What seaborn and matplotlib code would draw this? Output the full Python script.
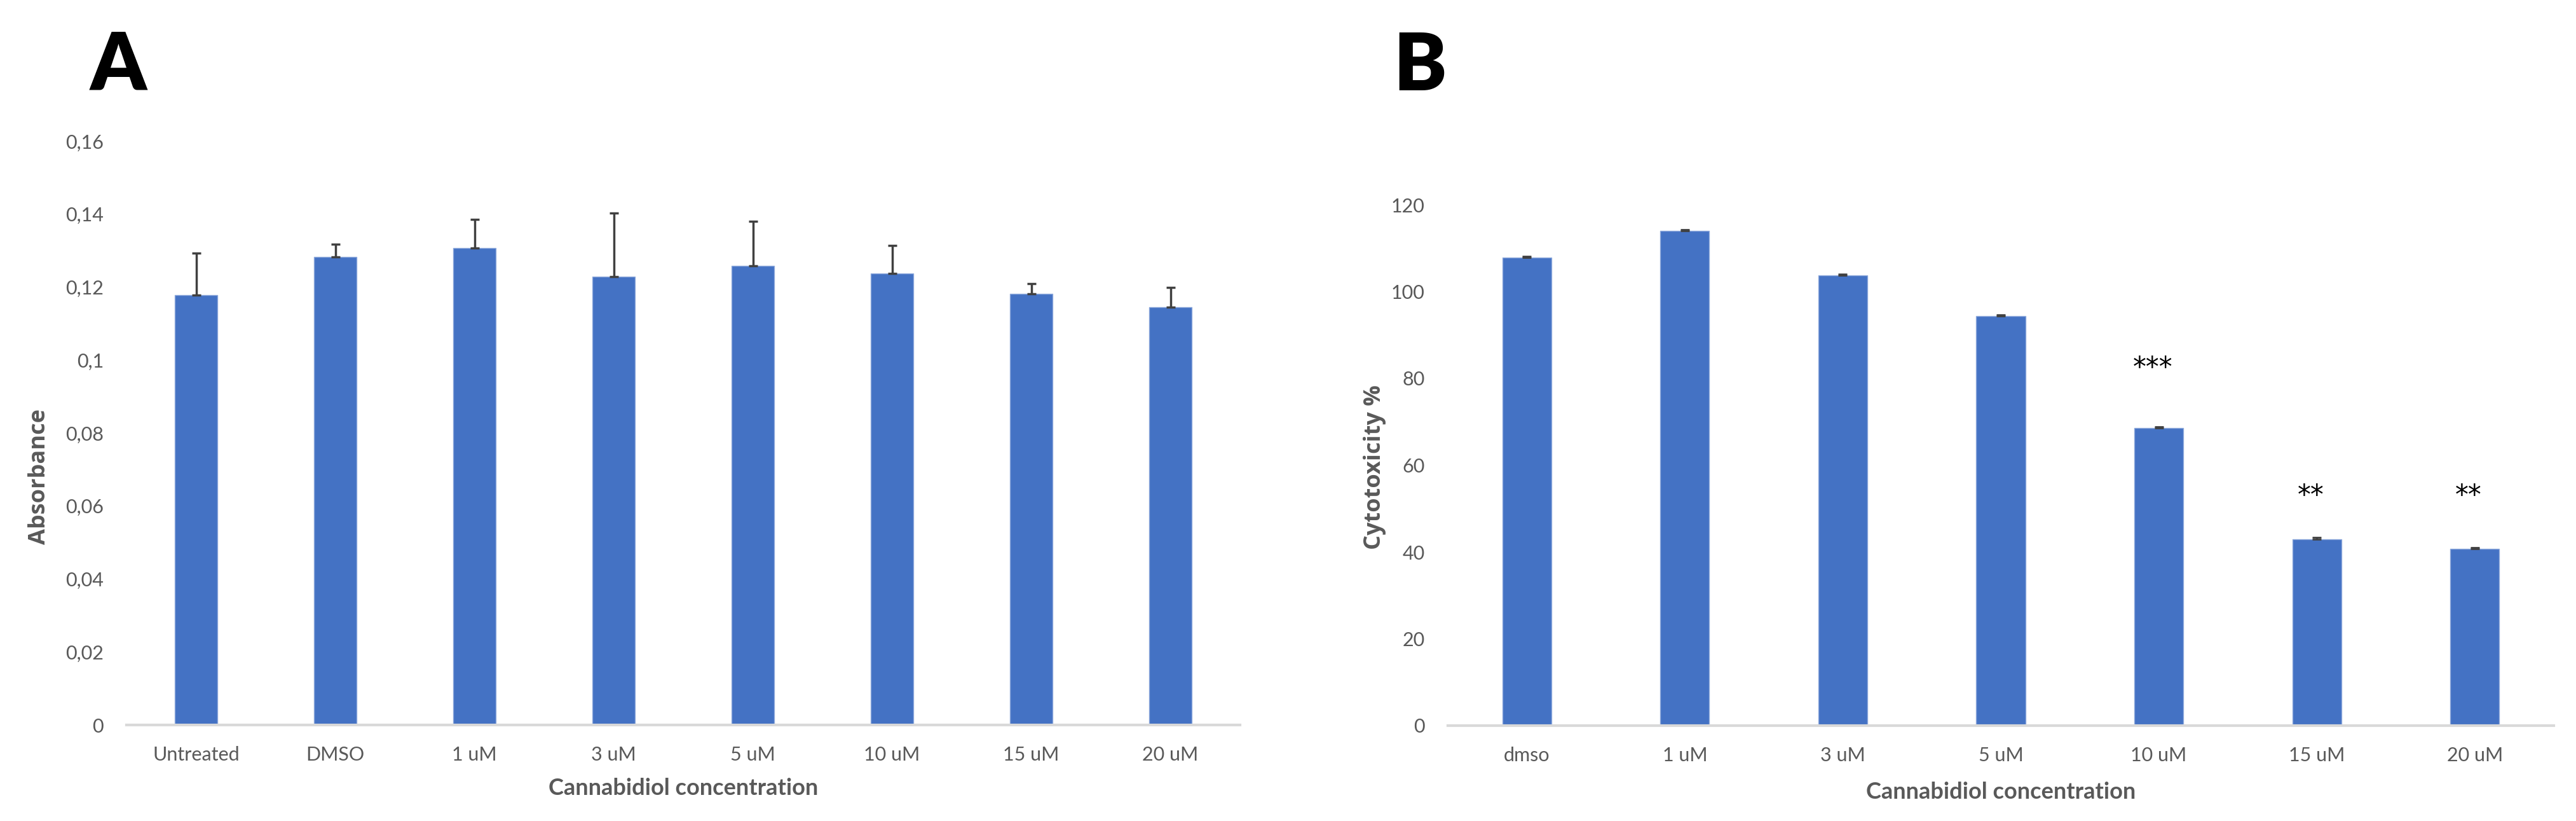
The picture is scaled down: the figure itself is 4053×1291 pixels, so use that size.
import matplotlib
matplotlib.use("Agg")
import matplotlib.pyplot as plt
import seaborn as sns
import pandas as pd
import numpy as np

# ---- data ----
cats_a = ["Untreated", "DMSO", "1 uM", "3 uM", "5 uM", "10 uM", "15 uM", "20 uM"]
absorbance = [0.1178, 0.1282, 0.1308, 0.1228, 0.1258, 0.1238, 0.1181, 0.1145]
absorbance_err = [0.0116, 0.0035, 0.0077, 0.0175, 0.0123, 0.0076, 0.0028, 0.0054]
yticks_a = [0, 0.02, 0.04, 0.06, 0.08, 0.10, 0.12, 0.14, 0.16]
yticklabels_a = ["0", "0,02", "0,04", "0,06", "0,08", "0,1", "0,12", "0,14", "0,16"]

cats_b = ["dmso", "1 uM", "3 uM", "5 uM", "10 uM", "15 uM", "20 uM"]
cytotox = [107.9, 114.0, 103.7, 94.3, 68.6, 43.0, 40.7]
cytotox_err = [0.3, 0.3, 0.3, 0.3, 0.3, 0.3, 0.3]
yticks_b = [0, 20, 40, 60, 80, 100, 120]
stars_b = ["", "", "", "", "***", "**", "**"]
star_y_b = [None, None, None, None, 82.3, 52.9, 52.9]

sns.set_style("white")
plt.rcParams["font.family"] = ["Lato", "DejaVu Sans"]

BLUE = "#4472C4"
GREY = "#595959"
AXISGREY = "#D9D9D9"

W, H = 4053, 1291
fig = plt.figure(figsize=(W / 100, H / 100), dpi=100)

def px_axes(left, right, top, bottom):
    return fig.add_axes([left / W, 1 - bottom / H, (right - left) / W, (bottom - top) / H])

axA = px_axes(199, 1951, 222, 1140)
axB = px_axes(2278, 4018, 322, 1141)

dfa = pd.DataFrame({"cat": cats_a, "val": absorbance})
dfb = pd.DataFrame({"cat": cats_b, "val": cytotox})

sns.barplot(data=dfa, x="cat", y="val", ax=axA, color=BLUE, width=0.31,
            errorbar=None, saturation=1, edgecolor="#8FAADC", linewidth=1)
sns.barplot(data=dfb, x="cat", y="val", ax=axB, color=BLUE, width=0.31,
            errorbar=None, saturation=1, edgecolor="#8FAADC", linewidth=1)

xa = np.arange(len(cats_a))
axA.errorbar(xa, absorbance, yerr=[np.zeros(len(cats_a)), absorbance_err],
             fmt="none", ecolor="#404040", elinewidth=2.5, capsize=5, capthick=2.5)
xb = np.arange(len(cats_b))
axB.errorbar(xb, cytotox, yerr=[np.zeros(len(cats_b)), cytotox_err],
             fmt="none", ecolor="#404040", elinewidth=2, capsize=5, capthick=2)

for ax in (axA, axB):
    for s in ("top", "right", "left"):
        ax.spines[s].set_visible(False)
    ax.spines["bottom"].set_color(AXISGREY)
    ax.spines["bottom"].set_linewidth(3)
    ax.tick_params(axis="both", length=0, labelsize=22, labelcolor=GREY)
    ax.tick_params(axis="y", pad=26)
    ax.tick_params(axis="x", pad=24)
    ax.set_xlabel("Cannabidiol concentration", fontsize=26, fontweight="bold",
                  color=GREY)
    ax.xaxis.label.set_va("center")
    ax.grid(False)

axA.set_xlim(-0.5, len(cats_a) - 0.5)
axA.set_ylim(0, 0.16)
axA.set_yticks(yticks_a)
axA.set_yticklabels(yticklabels_a)
axA.xaxis.set_label_coords(0.5, -99 / 918)
axA.set_ylabel("Absorbance", fontsize=26, fontweight="bold", color=GREY,
               family=["Open Sans", "DejaVu Sans"])
axA.yaxis.label.set_va("center")
axA.yaxis.set_label_coords(-(199 - 62) / 1752, (1140 - 749) / 918)

axB.set_xlim(-0.5, len(cats_b) - 0.5)
axB.set_ylim(0, 120)
axB.set_yticks(yticks_b)
axB.set_yticklabels([str(t) for t in yticks_b])
axB.xaxis.set_label_coords(0.5, -105 / 819)
axB.set_ylabel("Cytotoxicity %", fontsize=26, fontweight="bold", color=GREY,
               family=["Open Sans", "DejaVu Sans"])
axB.yaxis.label.set_va("center")
axB.yaxis.set_label_coords(-(2278 - 2163) / 1740, (1141 - 735) / 819)

for i, (s, yv) in enumerate(zip(stars_b, star_y_b)):
    if s:
        axB.text(i - 0.04, yv, s, ha="center", va="center", fontsize=30,
                 color="black", family=["DejaVu Sans"])

fig.text(186 / W, 1 - 105 / H, "A", fontsize=90, fontweight="heavy",
         ha="center", va="center", color="black")
fig.text(2234 / W, 1 - 105 / H, "B", fontsize=90, fontweight="heavy",
         ha="center", va="center", color="black")

fig.savefig("out.png", dpi=100, facecolor="white")
